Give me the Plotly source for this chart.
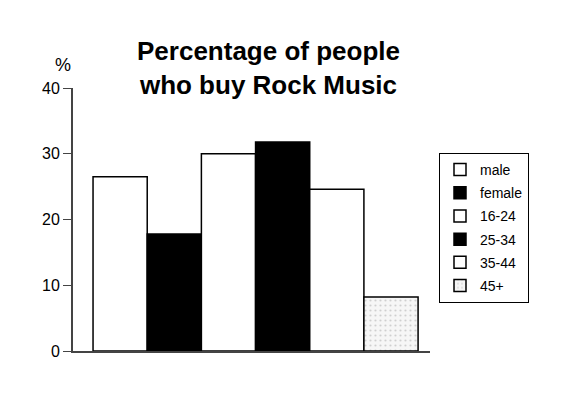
import plotly.graph_objects as go

groups = ["male", "female", "16-24", "25-34", "35-44", "45+"]
values = [26.5, 17.8, 30.0, 31.8, 24.6, 8.2]
fills = ["white", "black", "white", "black", "white", "#f4f4f4"]
y_ticks = [0, 10, 20, 30, 40]

fig = go.Figure()
for i, (g, v, c) in enumerate(zip(groups, values, fills)):
    marker = dict(color=c, line=dict(color="black", width=1.5))
    if g == "45+":
        marker["pattern"] = dict(shape=".", fgcolor="#a8a8a8", bgcolor="#f6f6f6", size=5, solidity=0.15)
    fig.add_trace(go.Bar(x=[i], y=[v], name=g, width=1, marker=marker,
                         legendgroup=g))

fig.update_layout(
    width=587, height=394,
    margin=dict(l=73, r=157, t=88, b=43),
    paper_bgcolor="white", plot_bgcolor="white",
    barmode="overlay",
    showlegend=True,
    font=dict(family="Liberation Sans, Arial, sans-serif", color="black"),
    legend=dict(x=(439-73)/357, y=0.753, xanchor="left", yanchor="top",
                bordercolor="black", borderwidth=1, bgcolor="white",
                font=dict(size=14), tracegroupgap=2,
                itemwidth=30),
    xaxis=dict(range=[-0.87, 5.72], showticklabels=False, ticks="",
               showgrid=False, zeroline=False, showline=True,
               linecolor="#444", linewidth=2),
    yaxis=dict(range=[0, 40], tickvals=y_ticks, ticks="outside", ticklen=8,
               tickcolor="#444", showgrid=False, zeroline=False,
               showline=True, linecolor="#444", linewidth=2,
               tickfont=dict(size=16)),
)
fig.add_annotation(text="<b>Percentage of people<br>who buy Rock Music</b>",
                   xref="paper", yref="paper", x=(268-73)/357, y=(351-34)/263,
                   xanchor="center", yanchor="top", showarrow=False,
                   font=dict(size=26, family="Liberation Sans, Arial, sans-serif"))
fig.add_annotation(text="%", xref="paper", yref="paper", x=-10/357, y=(351-53)/263,
                   xanchor="center", yanchor="top", showarrow=False,
                   font=dict(size=18))
fig.write_html("out.html")
